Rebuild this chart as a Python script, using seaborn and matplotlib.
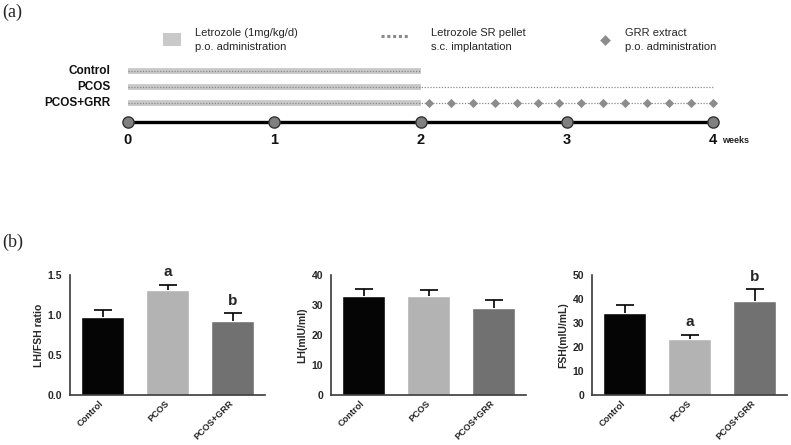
import numpy as np
import pandas as pd
import matplotlib
matplotlib.use("Agg")
import matplotlib.pyplot as plt
import seaborn as sns

sns.set_style("white")
plt.rcParams['font.family'] = ['Liberation Sans', 'DejaVu Sans']

# --- data ---
groups = ["Control", "PCOS", "PCOS+GRR"]
bar_colors = ["#050505", "#b3b3b3", "#717171"]

ratio_mean = [0.98, 1.31, 0.92]
ratio_err = [0.08, 0.07, 0.10]
lh_mean = [32.9, 32.9, 29.0]
lh_err = [2.3, 2.1, 2.6]
fsh_mean = [34.2, 23.5, 39.0]
fsh_err = [3.4, 1.6, 5.0]

ratio_letters = ["", "a", "b"]
fsh_letters = ["", "a", "b"]

weeks = [0, 1, 2, 3, 4]
letrozole_po_end = 2
pellet_end = 4
grr_doses = [2.06, 2.21, 2.36, 2.51, 2.66, 2.80, 2.95, 3.10, 3.25, 3.40, 3.55, 3.70, 3.85, 4.0]

W, H = 791, 445
fig = plt.figure(figsize=(W / 100, H / 100), dpi=100)

# --- (a) timeline schematic ---
ax0 = fig.add_axes([0, 1 - 160 / H, 1, 160 / H])
ax0.set_xlim(-128 / 146.25, (W - 128) / 146.25)
ax0.set_ylim(89 / 16, -71 / 16)   # 16 px per row, row 0 at 71 px
ax0.axis("off")

light = "#c9c9c9"
dotc = "#8a8a8a"
txtc = "#262626"
for i, g in enumerate(groups):
    ax0.plot([0, letrozole_po_end], [i, i], color=light, lw=4.2, solid_capstyle="butt", zorder=1)
    end = letrozole_po_end if g == "Control" else pellet_end
    ax0.plot([0, end], [i, i], color=dotc, lw=0.9, ls=(0, (1, 1.3)), zorder=2)
    ax0.text(-0.12, i, g, ha="right", va="center", fontsize=8.5, fontweight="bold", color="#111")
ax0.scatter(grr_doses, [2] * len(grr_doses), marker="D", s=22, color="#8c8c8c", zorder=3, linewidths=0)

t_y = 3.19
ax0.plot([0, 4], [t_y, t_y], color="black", lw=2.4, zorder=2)
ax0.scatter(weeks, [t_y] * len(weeks), s=65, color="#808080", edgecolor="#333", linewidths=1, zorder=3)
for w in weeks:
    ax0.text(w, t_y + 1.15, str(w), ha="center", va="center", fontsize=10.5, fontweight="bold", color="#111")
ax0.text(4.06, t_y + 1.15, "weeks", ha="left", va="center", fontsize=6.5, fontweight="bold", color="#222")

# legend row
ly = -1.95
lfs = 8
ax0.add_patch(plt.Rectangle((0.24, ly - 0.4), 0.125, 0.8, color=light, lw=0))
ax0.text(0.46, ly - 0.45, "Letrozole (1mg/kg/d)", ha="left", va="center", fontsize=lfs, color=txtc)
ax0.text(0.46, ly + 0.45, "p.o. administration", ha="left", va="center", fontsize=lfs, color=txtc)
ax0.plot([1.73, 1.93], [ly - 0.25, ly - 0.25], color=dotc, lw=2.2, ls=(0, (1, 0.9)))
ax0.text(2.07, ly - 0.45, "Letrozole SR pellet", ha="left", va="center", fontsize=lfs, color=txtc)
ax0.text(2.07, ly + 0.45, "s.c. implantation", ha="left", va="center", fontsize=lfs, color=txtc)
ax0.scatter([3.26], [ly], marker="D", s=30, color="#8c8c8c", linewidths=0)
ax0.text(3.40, ly - 0.45, "GRR extract", ha="left", va="center", fontsize=lfs, color=txtc)
ax0.text(3.40, ly + 0.45, "p.o. administration", ha="left", va="center", fontsize=lfs, color=txtc)

fig.text(2 / W, 1 - 12 / H, "(a)", ha="left", va="center", fontsize=13, family="Liberation Serif")
fig.text(2 / W, 1 - 242 / H, "(b)", ha="left", va="center", fontsize=13, family="Liberation Serif")

# --- (b) hormone bar charts ---
panels = [
    (ratio_mean, ratio_err, "LH/FSH ratio", 1.5, [0, 0.5, 1.0, 1.5], "{:.1f}", ratio_letters),
    (lh_mean, lh_err, "LH(mIU/ml)", 40, [0, 10, 20, 30, 40], "{:.0f}", None),
    (fsh_mean, fsh_err, "FSH(mIU/mL)", 50, [0, 10, 20, 30, 40, 50], "{:.0f}", fsh_letters),
]
lefts = [70, 331, 592]
spine_c = "#3a3a3a"
for left, (mean, err, ylab, ymax, ticks, fmt, letters) in zip(lefts, panels):
    ax = fig.add_axes([left / W, 1 - 395 / H, 195 / W, 120 / H])
    df = pd.DataFrame({"group": groups, "value": mean})
    sns.barplot(data=df, x="group", y="value", hue="group", palette=bar_colors,
                width=0.66, errorbar=None, legend=False, ax=ax, saturation=1)
    eb = ax.errorbar(range(3), mean, yerr=[[0, 0, 0], err], fmt="none", ecolor="black",
                     elinewidth=1.2, capsize=6.5, capthick=1.2, zorder=3)
    eb[1][0].set_visible(False)   # hide the lower caps
    ax.set_xlim(-0.5, 2.5)
    ax.set_ylim(0, ymax)
    ax.set_yticks(ticks)
    ax.set_yticklabels([fmt.format(t) for t in ticks], fontsize=7.5, fontweight="bold")
    ax.set_xticks(range(3))
    ax.set_xticklabels(groups, rotation=45, ha="right", va="center", rotation_mode="anchor",
                       fontsize=6.6, fontweight="bold")
    ax.set_xlabel("")
    ax.set_ylabel(ylab, fontsize=7.5, fontweight="bold", labelpad=3)
    sns.despine(ax=ax)
    for s in ["left", "bottom"]:
        ax.spines[s].set_color(spine_c)
        ax.spines[s].set_linewidth(1.2)
    ax.tick_params(axis="both", length=4, width=1.2, color=spine_c, pad=1.5, direction="out")
    ax.tick_params(axis="x", pad=1)
    ax.patch.set_alpha(0)
    if letters:
        for i, lt in enumerate(letters):
            if lt:
                ax.annotate(lt, (i, mean[i] + err[i]), xytext=(0, 4), textcoords="offset points",
                            ha="center", va="bottom", fontsize=11, fontweight="bold", annotation_clip=False)

fig.savefig("out.png", dpi=100)
